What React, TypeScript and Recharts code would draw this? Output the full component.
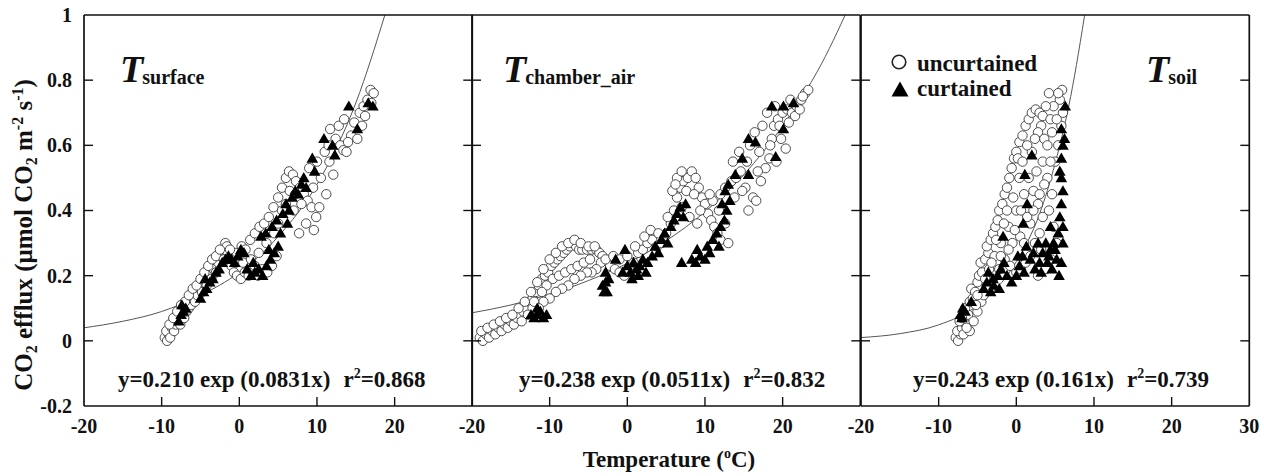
import React from 'react';
import { ComposedChart, Scatter, Line, XAxis, YAxis } from 'recharts';

type Pt = [number, number];

const xTicks = [-20, -10, 0, 10, 20, 30];
const yTicks = [-0.2, 0, 0.2, 0.4, 0.6, 0.8, 1];

// T surface
const surfaceOpen: Pt[] = [
  [-9.6, 0.01], [-9.3, 0.0], [-9.1, 0.02], [-9.4, 0.03], [-8.9, 0.01], [-8.7, 0.04], [-8.4, 0.03], [-8.2, 0.05],
  [-7.9, 0.06], [-7.6, 0.05], [-7.4, 0.08], [-7.1, 0.07], [-6.8, 0.09], [-6.5, 0.1], [-6.2, 0.11], [-6.0, 0.13],
  [-5.7, 0.12], [-5.4, 0.14], [-5.1, 0.16], [-4.8, 0.15], [-4.5, 0.18], [-4.2, 0.17], [-3.9, 0.2], [-3.6, 0.19],
  [-3.3, 0.22], [-3.0, 0.21], [-2.7, 0.24], [-2.4, 0.26], [-2.1, 0.28], [-1.8, 0.3], [-1.6, 0.29], [-1.5, 0.27],
  [-1.3, 0.25], [-1.0, 0.23], [-0.7, 0.21], [-0.3, 0.2], [0.2, 0.19], [0.7, 0.21], [1.2, 0.2], [1.8, 0.21],
  [2.4, 0.2], [3.0, 0.22], [3.6, 0.21], [4.2, 0.23], [-0.8, 0.26], [-0.3, 0.27], [0.3, 0.29], [0.8, 0.28],
  [1.4, 0.31], [2.0, 0.33], [2.6, 0.35], [3.2, 0.36], [3.8, 0.38], [4.4, 0.41], [5.0, 0.44], [5.5, 0.47],
  [6.0, 0.5], [6.4, 0.52], [6.9, 0.51], [7.3, 0.49], [7.8, 0.47], [8.3, 0.45], [8.8, 0.43], [9.3, 0.41],
  [9.9, 0.38], [7.7, 0.33], [8.6, 0.36], [10.3, 0.41], [11.2, 0.45], [12.1, 0.51], [11.6, 0.55], [11.0, 0.58],
  [11.7, 0.65], [12.4, 0.62], [13.0, 0.6], [13.4, 0.585], [13.8, 0.58], [14.4, 0.63], [15.2, 0.62], [14.8, 0.67],
  [15.5, 0.7], [16.0, 0.72], [16.5, 0.74], [16.9, 0.77], [17.3, 0.76], [15.8, 0.66], [9.0, 0.53], [10.0, 0.55],
  [6.0, 0.42], [5.0, 0.36], [-9.0, 0.05], [-8.5, 0.07], [-8.0, 0.09], [-7.5, 0.11], [-7.0, 0.12], [-6.5, 0.14],
  [-6.0, 0.16], [-5.5, 0.17], [-5.0, 0.19], [-4.5, 0.21], [-4.0, 0.23], [-3.5, 0.25], [-3.0, 0.26], [-2.5, 0.28],
  [-2.0, 0.25], [-1.2, 0.28], [-0.5, 0.24], [0.5, 0.24], [1.5, 0.25], [2.5, 0.27], [3.5, 0.3], [4.5, 0.33],
  [5.5, 0.4], [6.5, 0.46], [7.0, 0.4], [8.0, 0.42], [9.5, 0.47], [10.5, 0.5], [11.5, 0.6], [12.8, 0.66],
  [13.5, 0.68], [14.0, 0.61], [16.2, 0.69], [17.0, 0.73], [2.0, 0.23], [4.8, 0.26], [9.6, 0.34], [7.2, 0.45],
];
const surfaceFilled: Pt[] = [
  [-7.8, 0.06], [-7.5, 0.08], [-7.2, 0.09], [-6.9, 0.1], [-7.4, 0.11], [-5.0, 0.13], [-4.6, 0.15], [-4.2, 0.16],
  [-3.8, 0.18], [-3.4, 0.19], [-3.0, 0.21], [-2.6, 0.22], [-2.2, 0.24], [-1.8, 0.25], [-1.4, 0.26], [-1.0, 0.25],
  [-0.6, 0.24], [-0.2, 0.26], [0.2, 0.28], [0.6, 0.27], [1.0, 0.22], [1.5, 0.2], [2.0, 0.21], [2.5, 0.22],
  [3.0, 0.2], [3.5, 0.23], [4.0, 0.25], [4.5, 0.27], [5.0, 0.29], [2.8, 0.32], [3.4, 0.33], [4.2, 0.35],
  [4.8, 0.37], [5.3, 0.33], [5.6, 0.39], [6.0, 0.42], [6.4, 0.4], [6.8, 0.44], [7.2, 0.46], [7.6, 0.45],
  [8.0, 0.48], [8.3, 0.5], [8.6, 0.47], [9.4, 0.56], [9.7, 0.52], [10.9, 0.62], [12.0, 0.6], [12.3, 0.57],
  [14.1, 0.72], [15.2, 0.65], [16.6, 0.73], [17.2, 0.72], [-4.4, 0.19], [1.8, 0.24], [3.8, 0.28], [6.2, 0.36],
];
const surfaceFit: Pt[] = [
  [-20, 0.04], [-15, 0.06], [-10, 0.09], [-5, 0.14], [0, 0.21], [5, 0.32], [10, 0.48], [15, 0.73], [19, 1.02],
];

// T chamber_air
const airOpen: Pt[] = [
  [-19.0, 0.01], [-18.6, 0.0], [-18.2, 0.02], [-17.8, 0.01], [-17.4, 0.03], [-17.0, 0.02], [-16.6, 0.04], [-16.2, 0.03],
  [-15.8, 0.05], [-15.4, 0.04], [-15.0, 0.06], [-14.6, 0.05], [-14.2, 0.07], [-13.8, 0.08], [-13.4, 0.09], [-13.0, 0.1],
  [-12.6, 0.12], [-12.2, 0.13], [-11.8, 0.15], [-11.4, 0.17], [-11.0, 0.19], [-10.6, 0.2], [-10.2, 0.21], [-9.8, 0.23],
  [-9.4, 0.24], [-9.0, 0.25], [-8.6, 0.26], [-8.2, 0.27], [-7.8, 0.28], [-7.4, 0.29], [-7.0, 0.3], [-6.6, 0.29],
  [-6.2, 0.28], [-5.8, 0.28], [-5.2, 0.28], [-4.6, 0.28], [-4.0, 0.28], [-3.6, 0.27], [-3.2, 0.26], [-3.4, 0.24],
  [-4.0, 0.22], [-4.6, 0.21], [-5.2, 0.21], [-6.0, 0.2], [-6.8, 0.19], [-7.6, 0.17], [-8.4, 0.16], [-9.2, 0.15],
  [-10.0, 0.13], [-10.8, 0.12], [-11.4, 0.1], [-12.2, 0.1], [-12.8, 0.08], [-13.6, 0.06],
  [-2.2, 0.23], [-1.6, 0.22], [-1.0, 0.21], [-0.4, 0.2], [0.2, 0.22], [0.8, 0.24], [1.4, 0.27], [2.0, 0.28],
  [2.6, 0.3], [3.2, 0.31], [3.8, 0.29], [4.4, 0.3], [5.0, 0.33], [5.6, 0.36], [6.0, 0.4], [6.4, 0.44],
  [6.8, 0.47], [7.2, 0.49], [7.8, 0.5], [8.3, 0.52], [8.8, 0.5], [9.2, 0.47], [9.6, 0.44], [10.0, 0.42],
  [10.4, 0.39], [10.8, 0.37], [11.2, 0.35], [11.6, 0.33], [12.0, 0.31], [13.0, 0.3], [7.0, 0.41], [8.0, 0.38],
  [9.0, 0.36], [5.8, 0.46], [6.4, 0.5], [11.0, 0.43], [12.0, 0.45], [12.6, 0.47], [13.4, 0.49], [14.0, 0.5],
  [14.6, 0.52], [15.2, 0.47], [15.6, 0.4], [16.2, 0.44], [16.6, 0.43], [17.2, 0.49], [17.8, 0.53], [18.3, 0.56],
  [18.6, 0.62], [18.9, 0.66], [19.4, 0.68], [20.0, 0.7], [20.6, 0.71], [21.2, 0.7], [21.8, 0.72], [22.4, 0.74],
  [22.9, 0.76], [23.3, 0.77], [22.6, 0.75], [19.8, 0.62], [20.4, 0.59], [19.2, 0.55], [17.0, 0.58], [15.8, 0.6],
  [16.4, 0.64], [17.4, 0.66], [18.0, 0.7], [13.6, 0.55], [14.4, 0.58],
  [-18.8, 0.03], [-18.0, 0.04], [-17.2, 0.05], [-16.4, 0.06], [-15.6, 0.07], [-14.8, 0.08], [-14.0, 0.1], [-13.2, 0.12],
  [-12.4, 0.15], [-11.6, 0.18], [-10.8, 0.22], [-10.0, 0.25], [-9.2, 0.27], [-8.4, 0.29], [-7.6, 0.3], [-6.8, 0.31],
  [-6.0, 0.3], [-5.0, 0.29], [-4.2, 0.29], [-2.8, 0.25], [-9.6, 0.19], [-8.8, 0.2], [-8.0, 0.21], [-7.2, 0.22],
  [-6.4, 0.23], [-5.6, 0.24], [-4.8, 0.25], [-10.4, 0.17], [-11.0, 0.15], [-12.0, 0.12], [-1.8, 0.26], [-1.0, 0.25],
  [0.0, 0.26], [1.0, 0.29], [2.2, 0.32], [3.0, 0.34], [4.0, 0.33], [5.2, 0.38], [6.2, 0.48], [7.0, 0.52],
  [7.6, 0.46], [8.6, 0.45], [9.4, 0.4], [10.6, 0.45], [11.8, 0.4], [12.6, 0.36], [13.8, 0.44], [14.8, 0.46],
  [15.4, 0.55], [16.8, 0.52], [18.4, 0.6], [19.6, 0.66], [20.8, 0.67], [21.6, 0.69], [22.2, 0.71], [21.0, 0.74],
  [19.0, 0.72],
];
const airFilled: Pt[] = [
  [-12.4, 0.08], [-12.0, 0.07], [-11.6, 0.08], [-11.2, 0.09], [-10.8, 0.07], [-10.4, 0.08], [-11.6, 0.1],
  [-3.0, 0.15], [-2.6, 0.15], [-2.8, 0.18], [-2.8, 0.21], [-2.4, 0.19], [-3.2, 0.17],
  [-1.5, 0.25], [-0.3, 0.28], [-0.6, 0.21], [0.0, 0.23], [0.4, 0.21], [0.8, 0.24], [1.2, 0.22], [1.6, 0.23],
  [2.0, 0.25], [2.6, 0.24], [3.2, 0.26], [3.6, 0.29], [4.0, 0.27], [4.4, 0.31], [4.8, 0.33], [5.2, 0.3],
  [5.6, 0.35], [6.0, 0.37], [6.4, 0.39], [6.8, 0.41], [7.2, 0.38], [7.5, 0.42], [7.0, 0.24], [8.3, 0.25],
  [8.8, 0.24], [9.4, 0.26], [10.0, 0.25], [10.6, 0.27], [10.3, 0.29], [11.0, 0.31], [11.5, 0.33], [12.0, 0.35],
  [12.5, 0.37], [12.8, 0.4], [13.2, 0.43], [12.6, 0.46], [13.0, 0.48], [13.9, 0.51], [15.6, 0.51], [14.8, 0.56],
  [15.6, 0.62], [16.5, 0.61], [19.1, 0.565], [18.6, 0.72], [20.1, 0.72], [21.4, 0.73], [20.1, 0.65],
  [0.6, 0.19], [1.4, 0.2], [2.4, 0.21], [9.0, 0.28], [11.8, 0.29], [12.2, 0.42],
];
const airFit: Pt[] = [
  [-20, 0.086], [-15, 0.11], [-10, 0.143], [-5, 0.185], [0, 0.238], [5, 0.307], [10, 0.396], [15, 0.51],
  [20, 0.66], [25, 0.85], [29, 1.05],
];

// T soil
const soilOpen: Pt[] = [
  [-7.8, 0.01], [-7.5, 0.0], [-7.2, 0.02], [-7.6, 0.03], [-7.0, 0.04], [-6.8, 0.02], [-6.5, 0.05], [-7.3, 0.06],
  [-6.2, 0.08], [-6.6, 0.1], [-6.0, 0.12], [-5.6, 0.13], [-5.8, 0.16], [-5.3, 0.15], [-5.0, 0.18], [-4.8, 0.2],
  [-4.4, 0.21], [-4.6, 0.24], [-4.0, 0.25], [-3.6, 0.27], [-3.8, 0.29], [-3.3, 0.31], [-3.0, 0.33], [-2.7, 0.35],
  [-2.4, 0.37], [-2.2, 0.4], [-1.8, 0.42], [-1.5, 0.45], [-1.2, 0.47], [-0.9, 0.5], [-0.6, 0.53], [-0.3, 0.56],
  [0.0, 0.58], [0.4, 0.61], [0.8, 0.63], [1.2, 0.66], [1.6, 0.68], [2.0, 0.7], [2.5, 0.71], [3.0, 0.7],
  [3.4, 0.69], [3.2, 0.66], [2.8, 0.64], [3.6, 0.62], [4.0, 0.6], [-6.0, 0.03], [-5.5, 0.06], [-5.0, 0.09],
  [-4.5, 0.12], [-3.8, 0.16], [-3.0, 0.19], [-2.2, 0.22], [-1.5, 0.25], [-0.8, 0.23], [0.0, 0.21], [0.6, 0.22],
  [1.2, 0.24], [1.8, 0.26], [2.4, 0.3], [3.0, 0.33], [3.4, 0.38], [2.8, 0.42], [2.2, 0.46], [1.6, 0.5],
  [2.6, 0.52], [3.4, 0.55], [4.0, 0.5], [4.6, 0.45], [5.0, 0.55], [5.4, 0.6], [5.8, 0.66], [6.0, 0.7],
  [5.6, 0.74], [5.9, 0.77], [5.4, 0.76], [4.8, 0.72], [4.4, 0.68], [-1.0, 0.35], [0.0, 0.4], [0.5, 0.32],
  [1.0, 0.45], [-0.5, 0.3], [1.8, 0.36], [2.0, 0.58], [4.2, 0.4], [4.8, 0.35], [5.2, 0.3], [4.5, 0.25],
  [3.8, 0.22], [2.8, 0.2], [-2.8, 0.26], [-3.5, 0.22],
  [-7.0, 0.07], [-6.4, 0.04], [-5.2, 0.11], [-4.2, 0.14], [-3.2, 0.24], [-2.0, 0.3], [-1.6, 0.36], [-0.4, 0.44],
  [0.4, 0.5], [0.2, 0.56], [0.8, 0.55], [1.4, 0.6], [2.4, 0.62], [3.8, 0.72], [4.2, 0.76], [4.6, 0.64],
  [5.2, 0.68], [3.0, 0.45], [3.6, 0.48], [0.6, 0.4], [-0.2, 0.34], [1.4, 0.38], [2.2, 0.4], [4.4, 0.55],
  [3.2, 0.28], [-1.0, 0.28], [-2.0, 0.26], [-4.0, 0.19], [-5.0, 0.14], [-2.6, 0.31], [-1.2, 0.4], [1.0, 0.3],
];
const soilFilled: Pt[] = [
  [-7.2, 0.08], [-6.9, 0.1], [-6.6, 0.09], [-5.8, 0.12], [-4.2, 0.16], [-3.8, 0.18], [-3.6, 0.21], [-3.3, 0.15],
  [-2.9, 0.17], [-2.4, 0.2], [-2.0, 0.22], [-1.6, 0.24], [-1.7, 0.32], [-1.2, 0.2], [-0.6, 0.18], [0.0, 0.2],
  [0.4, 0.23], [0.8, 0.26], [0.9, 0.36], [1.3, 0.29], [1.4, 0.42], [1.1, 0.51], [2.0, 0.57], [1.8, 0.25],
  [2.4, 0.22], [3.0, 0.24], [3.4, 0.27], [3.8, 0.3], [4.2, 0.26], [4.6, 0.22], [5.0, 0.28], [5.4, 0.33],
  [5.6, 0.38], [5.8, 0.42], [6.0, 0.46], [5.6, 0.52], [5.8, 0.56], [6.2, 0.62], [5.8, 0.65], [6.3, 0.72],
  [5.2, 0.25], [4.8, 0.3], [4.4, 0.35], [6.0, 0.3], [5.5, 0.2],
  [-7.0, 0.07], [-3.0, 0.19], [-2.2, 0.16], [0.2, 0.26], [1.0, 0.21], [2.2, 0.27], [2.8, 0.3], [3.2, 0.21],
  [4.0, 0.24], [4.4, 0.28], [5.8, 0.24], [6.0, 0.35], [5.8, 0.5], [6.0, 0.6],
];
const soilFit: Pt[] = [
  [-20, 0.01], [-15, 0.022], [-10, 0.049], [-5, 0.109], [0, 0.243], [3, 0.39], [5, 0.545], [7, 0.75], [9, 1.03],
];

const subscripts = ['surface', 'chamber_air', 'soil'];
const fitText = ['y=0.210 exp (0.0831x)', 'y=0.238 exp (0.0511x)', 'y=0.243 exp (0.161x)'];
const r2Text = ['0.868', '0.832', '0.739'];
const legendNames = ['uncurtained', 'curtained'];

const FONT = "'Liberation Serif', 'Times New Roman', serif";
const INK = '#111';
const LEFT0 = 84;
const PW = 388.3;
const TOP = 15;
const BOTTOM = 70;
const H = 476;
const TICK = 9;
const axisLine = { stroke: INK, strokeWidth: 1.7 };

const toObj = (pts: Pt[]) => pts.map(([x, y]) => ({ x, y }));

const OpenCircle = (p: any) => (
  <circle cx={p.cx} cy={p.cy} r={4.7} fill="#fff" stroke="#3a3a3a" strokeWidth={0.9} />
);
const FilledTri = (p: any) => (
  <polygon
    points={`${p.cx},${p.cy - 5.8} ${p.cx - 5.8},${p.cy + 4.3} ${p.cx + 5.8},${p.cy + 4.3}`}
    fill="#000"
  />
);

const isInnerX = (v: number) => v > -20 && v < 30;
const isInnerY = (v: number) => v > -0.19 && v < 0.99;

const makeBottomTick = (showLast: boolean) => (props: any) => {
  const { x, y, payload } = props;
  const v = payload.value;
  return (
    <g>
      {isInnerX(v) && <line x1={x} x2={x} y1={y} y2={y - TICK} stroke={INK} strokeWidth={1.4} />}
      {(v < 30 || showLast) && (
        <text x={x} y={y + 27} textAnchor="middle" fontSize={20} fontWeight="bold" fontFamily={FONT} fill={INK}>
          {v}
        </text>
      )}
    </g>
  );
};

const TopTick = (props: any) => {
  const { x, y, payload } = props;
  if (!isInnerX(payload.value)) return <g />;
  return <line x1={x} x2={x} y1={y} y2={y + TICK} stroke={INK} strokeWidth={1.4} />;
};

const makeLeftTick = (showLabel: boolean) => (props: any) => {
  const { x, y, payload } = props;
  const v = payload.value;
  return (
    <g>
      {isInnerY(v) && <line x1={x} x2={x + TICK} y1={y} y2={y} stroke={INK} strokeWidth={1.4} />}
      {showLabel && (
        <text x={x - 12} y={y} dy="0.35em" textAnchor="end" fontSize={20} fontWeight="bold" fontFamily={FONT} fill={INK}>
          {Math.abs(v) < 1e-9 ? '0' : String(v)}
        </text>
      )}
    </g>
  );
};

const RightTick = (props: any) => {
  const { x, y, payload } = props;
  if (!isInnerY(payload.value)) return <g />;
  return <line x1={x} x2={x - TICK} y1={y} y2={y} stroke={INK} strokeWidth={1.4} />;
};

interface PanelProps {
  index: number;
  open: Pt[];
  filled: Pt[];
  fit: Pt[];
}

// axes need a size of at least 1px or Recharts skips them
const Panel: React.FC<PanelProps> = ({ index, open, filled, fit }) => {
  const ml = index === 0 ? LEFT0 : 14;
  const mr = index === 2 ? 24 : 14;
  const left = LEFT0 + index * PW - ml;
  return (
    <div style={{ position: 'absolute', left, top: 0 }}>
      <ComposedChart
        width={PW + ml + mr}
        height={H}
        margin={{ top: TOP - 1, bottom: BOTTOM - 1, left: ml - 1, right: mr - 1 }}
      >
        <XAxis
          xAxisId="b"
          type="number"
          dataKey="x"
          domain={[-20, 30]}
          ticks={xTicks}
          interval={0}
          allowDataOverflow
          height={1}
          tickSize={0}
          tickMargin={0}
          tickLine={false}
          axisLine={axisLine}
          tick={makeBottomTick(index === 2)}
        />
        <XAxis
          xAxisId="t"
          orientation="top"
          type="number"
          domain={[-20, 30]}
          ticks={xTicks}
          interval={0}
          allowDataOverflow
          height={1}
          tickSize={0}
          tickMargin={0}
          tickLine={false}
          axisLine={axisLine}
          tick={TopTick}
        />
        <YAxis
          yAxisId="l"
          type="number"
          dataKey="y"
          domain={[-0.2, 1]}
          ticks={yTicks}
          interval={0}
          allowDataOverflow
          width={1}
          tickSize={0}
          tickMargin={0}
          tickLine={false}
          axisLine={axisLine}
          tick={makeLeftTick(index === 0)}
        />
        <YAxis
          yAxisId="r"
          orientation="right"
          type="number"
          domain={[-0.2, 1]}
          ticks={yTicks}
          interval={0}
          allowDataOverflow
          width={1}
          tickSize={0}
          tickMargin={0}
          tickLine={false}
          axisLine={axisLine}
          tick={RightTick}
        />
        <Scatter xAxisId="b" yAxisId="l" data={toObj(open)} dataKey="y" shape={OpenCircle} isAnimationActive={false} />
        <Scatter xAxisId="b" yAxisId="l" data={toObj(filled)} dataKey="y" shape={FilledTri} isAnimationActive={false} />
        <Line
          xAxisId="b"
          yAxisId="l"
          data={toObj(fit)}
          dataKey="y"
          type="monotone"
          dot={false}
          activeDot={false}
          stroke="#555"
          strokeWidth={1}
          isAnimationActive={false}
        />
      </ComposedChart>
    </div>
  );
};

const titleX = [120, 503, 1146];
const eqX = [118, 519, 913];

const Overlay: React.FC = () => (
  <svg
    width={1264}
    height={H}
    style={{ position: 'absolute', left: 0, top: 0, pointerEvents: 'none' }}
    fontFamily={FONT}
    fontWeight="bold"
    fill={INK}
  >
    <text transform="rotate(-90)" x={-235} y={32} textAnchor="middle" fontSize={25}>
      <tspan>CO</tspan>
      <tspan dy={5} fontSize={16}>2</tspan>
      <tspan dy={-5}>{' efflux (\u03bcmol CO'}</tspan>
      <tspan dy={5} fontSize={16}>2</tspan>
      <tspan dy={-5}>{' m'}</tspan>
      <tspan dy={-9} fontSize={16}>-2</tspan>
      <tspan dy={9}>{' s'}</tspan>
      <tspan dy={-9} fontSize={16}>-1</tspan>
      <tspan dy={9}>)</tspan>
    </text>
    <text x={669} y={467} textAnchor="middle" fontSize={23}>
      <tspan>Temperature (</tspan>
      <tspan dy={-9} fontSize={14}>o</tspan>
      <tspan dy={9}>C)</tspan>
    </text>
    {subscripts.map((s, i) => (
      <text key={s} x={titleX[i]} y={82} fontSize={38}>
        <tspan fontStyle="italic">T</tspan>
        <tspan dx={-1} dy={2} fontSize={20}>{s}</tspan>
      </text>
    ))}
    {fitText.map((t, i) => (
      <text key={t} x={eqX[i]} y={387} fontSize={23}>
        <tspan>{t}</tspan>
        <tspan dx={13}>r</tspan>
        <tspan dy={-9} fontSize={14}>2</tspan>
        <tspan dy={9}>{'=' + r2Text[i]}</tspan>
      </text>
    ))}
    <circle cx={899} cy={62} r={6.8} fill="#fff" stroke="#222" strokeWidth={1.6} />
    <text x={917} y={71} fontSize={23}>{legendNames[0]}</text>
    <polygon points="900,81.5 891.5,96.5 908.5,96.5" fill="#000" />
    <text x={917} y={96} fontSize={23}>{legendNames[1]}</text>
  </svg>
);

export default function App() {
  return (
    <div style={{ position: 'absolute', left: 0, top: 0, width: 1264, height: H, background: '#fff' }}>
      <Panel index={0} open={surfaceOpen} filled={surfaceFilled} fit={surfaceFit} />
      <Panel index={1} open={airOpen} filled={airFilled} fit={airFit} />
      <Panel index={2} open={soilOpen} filled={soilFilled} fit={soilFit} />
      <Overlay />
    </div>
  );
}
